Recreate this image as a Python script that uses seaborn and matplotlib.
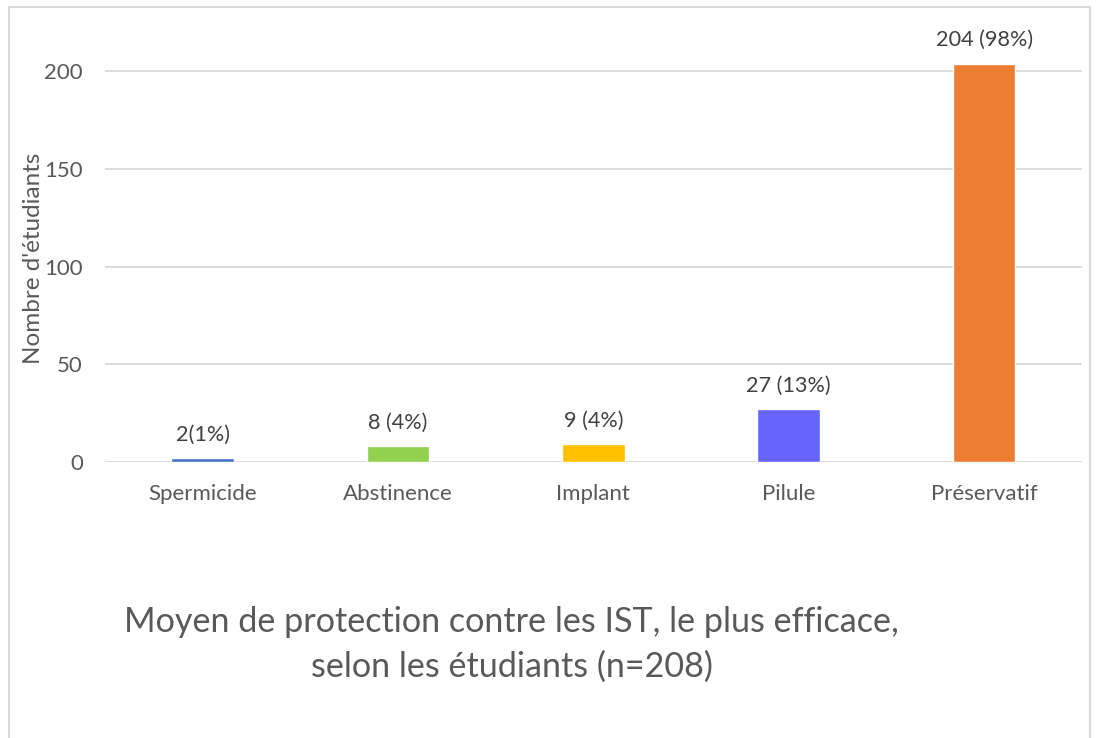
import matplotlib.pyplot as plt
import seaborn as sns
import pandas as pd
from matplotlib.patches import Rectangle

# Données
moyens = ["Spermicide", "Abstinence", "Implant", "Pilule", "Préservatif"]
effectifs = [2, 8, 9, 27, 204]
etiquettes = ["2(1%)", "8 (4%)", "9 (4%)", "27 (13%)", "204 (98%)"]
couleurs = ["#4472C4", "#92D050", "#FFC000", "#6666FF", "#ED7D31"]

df = pd.DataFrame({"Moyen": moyens, "Effectif": effectifs})

sns.set_theme(style="white")
plt.rcParams["font.family"] = ["Lato", "DejaVu Sans"]

fig = plt.figure(figsize=(10.96, 7.38), dpi=100)
ax = fig.add_axes([0.0958, 0.374, 0.8912, 0.553])

sns.barplot(data=df, x="Moyen", y="Effectif", hue="Moyen", palette=couleurs,
            width=0.32, legend=False, ax=ax, saturation=1)

ax.set_xlim(-0.5, 4.5)
ax.set_ylim(0, 209)
ax.set_yticks([0, 50, 100, 150, 200])
ax.yaxis.grid(True, color="#D9D9D9", linewidth=1.3)
ax.set_axisbelow(True)
for s in ax.spines.values():
    s.set_visible(False)
ax.tick_params(axis="both", length=0, labelsize=16, colors="#595959")
ax.tick_params(axis="x", pad=16)
ax.tick_params(axis="y", pad=16)
ax.set_xlabel("")
ax.set_ylabel("Nombre d'étudiants", fontsize=17.5, color="#595959", labelpad=0)

for i, p in enumerate(ax.patches):
    ax.text(p.get_x() + p.get_width() / 2, p.get_height() + 7, etiquettes[i],
            ha="center", va="bottom", fontsize=15.6, color="#404040", clip_on=False)

fig.text(0.467, 0.127, "Moyen de protection contre les IST, le plus efficace,\nselon les étudiants (n=208)",
         ha="center", va="center", fontsize=24.6, color="#595959", linespacing=1.5)

# cadre du graphique
fig.patches.append(Rectangle((9 / 1096, -0.05), 1081 / 1096, 1.05 - 7 / 738,
                             transform=fig.transFigure, fill=False,
                             edgecolor="#D9D9D9", linewidth=1.5))

fig.savefig("out.png", dpi=100)
